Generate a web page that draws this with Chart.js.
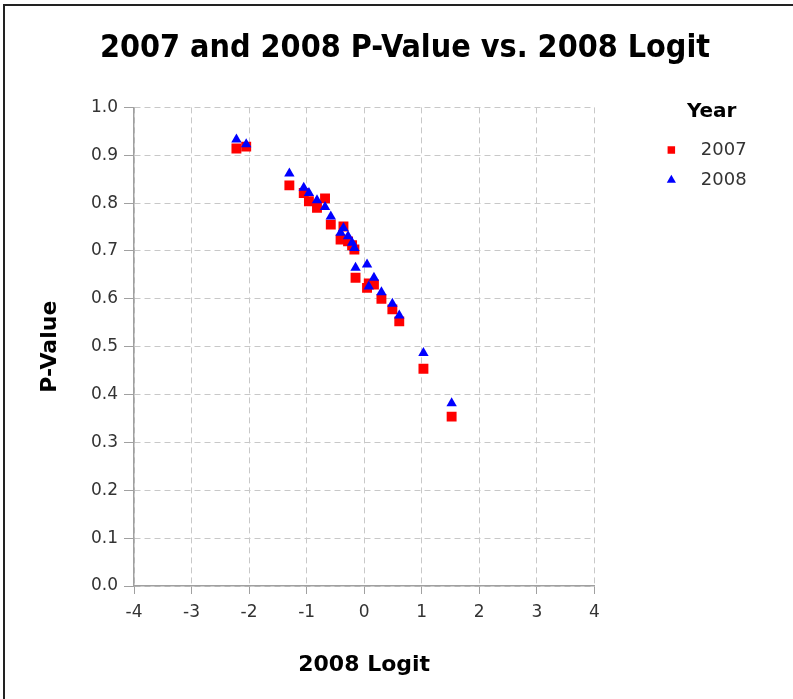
<!DOCTYPE html>
<html>
<head>
<meta charset="utf-8">
<script src="https://cdn.jsdelivr.net/npm/chart.js@4.4.1/dist/chart.umd.min.js"></script>
<style>
	body { margin: 0; background: #fff; overflow: hidden; }
	#frame { position: absolute; left: 3px; top: 4px; width: 900px; height: 900px; border: 2px solid #222; }
	#chart { position: absolute; left: 0; top: 0; }
</style>
</head>
<body>
<div id="frame"></div>
<canvas id="chart" width="793" height="699"></canvas>
<script>
// values
const logit2008 = [-2.22, -2.05, -1.30, -1.05, -0.96, -0.82, -0.68, -0.58, -0.36, -0.41, -0.28, -0.21, -0.17, -0.15, 0.05, 0.08, 0.17, 0.30, 0.49, 0.61, 1.03, 1.52];
const pValue2007 = [0.914, 0.918, 0.837, 0.821, 0.804, 0.790, 0.810, 0.755, 0.751, 0.724, 0.720, 0.712, 0.703, 0.644, 0.623, 0.632, 0.630, 0.600, 0.578, 0.553, 0.454, 0.354];
const pValue2008 = [0.933, 0.923, 0.862, 0.832, 0.821, 0.806, 0.792, 0.772, 0.748, 0.738, 0.731, 0.717, 0.706, 0.665, 0.672, 0.626, 0.644, 0.614, 0.590, 0.565, 0.487, 0.382];
const seriesNames = ["2007", "2008"];
const xTicks = [-4, -3, -2, -1, 0, 1, 2, 3, 4];
const yTicks = [0.0, 0.1, 0.2, 0.3, 0.4, 0.5, 0.6, 0.7, 0.8, 0.9, 1.0];

const toPoints = (ys) => logit2008.map((x, i) => ({ x: x, y: ys[i] }));

Chart.defaults.font.family = "'DejaVu Sans', Verdana, sans-serif";
Chart.defaults.color = "#333";

const gridColor = "#c8c8c8";
const axisColor = "#a0a0a0";

const ctx = document.getElementById("chart").getContext("2d");
new Chart(ctx, {
	type: "scatter",
	data: {
		datasets: [
			{
				label: seriesNames[0],
				data: toPoints(pValue2007),
				pointStyle: "rect",
				pointRadius: 7,
				pointHoverRadius: 7,
				pointBorderWidth: 0,
				backgroundColor: "#ff0000",
				borderColor: "#ff0000",
				xAxisID: "x",
				yAxisID: "y",
				order: 1
			},
			{
				label: seriesNames[1],
				data: toPoints(pValue2008),
				pointStyle: "triangle",
				pointRadius: 6,
				pointHoverRadius: 6,
				pointBorderWidth: 0,
				backgroundColor: "#0000ff",
				borderColor: "#0000ff",
				xAxisID: "x",
				yAxisID: "y",
				order: 0
			}
		]
	},
	options: {
		responsive: false,
		animation: false,
		layout: { padding: { left: 37, right: 20, top: 0, bottom: 0 } },
		plugins: {
			title: {
				display: true,
				text: "2007 and 2008 P-Value vs. 2008 Logit",
				color: "#000",
				font: { family: "'Liberation Sans Narrow', 'DejaVu Sans Condensed', sans-serif", size: 32, weight: "bold" },
				padding: { top: 29, bottom: 40 }
			},
			legend: {
				position: "right",
				align: "start",
				title: {
					display: true,
					text: "Year",
					color: "#000",
					font: { size: 20, weight: "bold" },
					padding: { top: 102, bottom: 3 }
				},
				labels: {
					usePointStyle: true,
					boxHeight: 7.5,
					padding: 12,
					color: "#333",
					font: { size: 18 },
					sort: (a, b) => a.datasetIndex - b.datasetIndex,
					generateLabels: (chart) => {
						const items = Chart.defaults.plugins.legend.labels.generateLabels(chart);
						items.forEach(it => { it.text = "  " + it.text + "     "; });
						return items;
					}
				}
			},
			tooltip: { enabled: false }
		},
		scales: {
			x: {
				type: "linear",
				position: "bottom",
				min: xTicks[0],
				max: xTicks[xTicks.length - 1],
				ticks: { stepSize: xTicks[1] - xTicks[0], padding: 8, color: "#333", font: { size: 17 } },
				grid: { color: gridColor, tickColor: axisColor, tickLength: 8 },
				border: { display: true, color: axisColor, width: 1.5, dash: [6, 4] },
				title: {
					display: true,
					text: "2008 Logit",
					color: "#000",
					font: { size: 22, weight: "bold" },
					padding: { top: 0, bottom: 21 }
				},
				afterFit: (s) => { s.height = 113; }
			},
			y: {
				type: "linear",
				position: "left",
				min: yTicks[0],
				max: yTicks[yTicks.length - 1],
				ticks: {
					stepSize: 0.1,
					padding: 6,
					color: "#333",
					font: { size: 17 },
					callback: (v) => Number(v).toFixed(1)
				},
				grid: { color: gridColor, tickColor: axisColor, tickLength: 10 },
				border: { display: true, color: axisColor, width: 1.5, dash: [6, 4] },
				title: {
					display: true,
					text: "P-Value",
					color: "#000",
					font: { size: 22, weight: "bold" },
					padding: { top: 0, bottom: 0 }
				},
				afterFit: (s) => { s.width = 97; }
			},
			// empty strip between plot and legend
			gap: {
				type: "linear",
				position: "right",
				min: 0,
				max: 1,
				display: true,
				ticks: { display: false },
				grid: { display: false, drawTicks: false },
				border: { display: false },
				afterFit: (s) => { s.width = 56; }
			}
		}
	}
});
</script>
</body>
</html>
